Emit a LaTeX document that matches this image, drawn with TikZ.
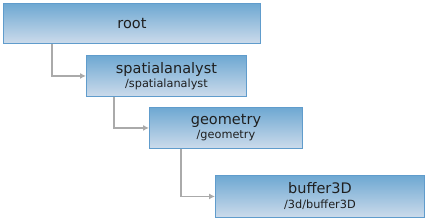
\documentclass[tikz,border=0pt]{standalone}
\usepackage{fontspec}
\setmainfont{DejaVu Sans}
\usepackage{tikz}
\usetikzlibrary{arrows.meta,calc}
\definecolor{boxtop}{RGB}{110,168,210}
\definecolor{boxbottom}{RGB}{204,219,235}
\definecolor{boxline}{RGB}{96,156,204}
\definecolor{linkgray}{RGB}{170,170,170}

\begin{document}
\begin{tikzpicture}[x=1pt, y=-1pt,
    level/.style={
      rectangle, draw=boxline, line width=0.9pt,
      top color=boxtop, bottom color=boxbottom,
      anchor=north west, inner sep=0pt,
      align=center, font=\fontsize{14.5}{15}\selectfont, text=black!88
    },
    link/.style={-{Latex[length=6pt,width=6pt]}, line width=1.6pt, draw=linkgray}
  ]
    \useasboundingbox (0,0) rectangle (427,219);
    \node[level, minimum width=257pt, minimum height=40pt] (root) at (3,3) {root};
    \node[level, minimum width=160pt, minimum height=41pt] (spatial) at (86,55)
      {spatialanalyst\\[-1pt]{\fontsize{11.3}{12}\selectfont /spatialanalyst}};
    \node[level, minimum width=153pt, minimum height=41pt] (geometry) at (149,107)
      {geometry\\[-1pt]{\fontsize{11.3}{12}\selectfont /geometry}};
    \node[level, minimum width=209pt, minimum height=42pt] (buffer) at (215,175)
      {buffer3D\\[0pt]{\fontsize{11.3}{12}\selectfont /3d/buffer3D}};
    \draw[link] ($(root.south west)+(49,0)$) |- (spatial.west);
    \draw[link] ($(spatial.south west)+(28,0)$) |- (geometry.west);
    \draw[link] ($(geometry.south west)+(32,0)$) |- (buffer.west);
  \end{tikzpicture}
\end{document}
